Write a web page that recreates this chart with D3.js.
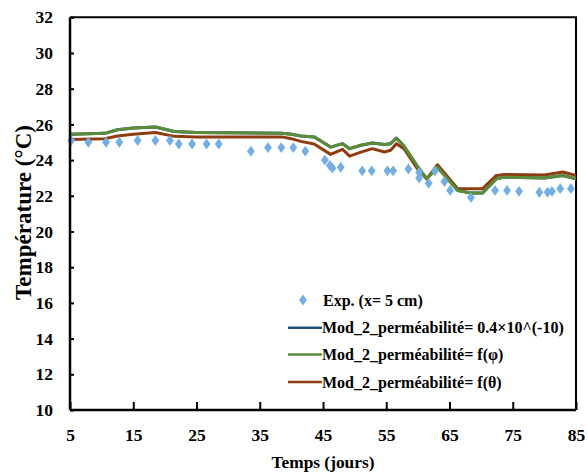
<!DOCTYPE html>
<html>
<head>
<meta charset="utf-8">
<script src="https://cdn.jsdelivr.net/npm/d3@7"></script>
<style>
  html, body { margin: 0; padding: 0; background: #fff; }
</style>
</head>
<body>
<svg id="chart" width="587" height="476"></svg>
<script>
// ---- data ----
const xTicks = [5, 15, 25, 35, 45, 55, 65, 75, 85];
const yTicks = [10, 12, 14, 16, 18, 20, 22, 24, 26, 28, 30, 32];

const expDays  = [5.2, 7.9, 10.7, 12.8, 15.7, 18.5, 20.8, 22.2, 24.3, 26.6, 28.5, 33.6, 36.3, 38.4, 40.3, 42.2, 45.3, 46.1, 46.5, 47.8, 51.2, 52.7, 55.2, 56.1, 58.5, 60.2, 60.2, 61.7, 62.7, 64.2, 65.1, 68.4, 72.2, 74.1, 76.0, 79.2, 80.5, 81.2, 82.5, 84.2];
const expTemps = [25.1, 25.0, 25.0, 25.0, 25.1, 25.1, 25.1, 24.9, 24.9, 24.9, 24.9, 24.5, 24.7, 24.7, 24.7, 24.5, 24.0, 23.7, 23.55, 23.6, 23.4, 23.4, 23.4, 23.4, 23.5, 23.3, 23.0, 22.7, 23.4, 22.8, 22.3, 21.9, 22.3, 22.3, 22.25, 22.2, 22.2, 22.25, 22.4, 22.4];

const modDays   = [5, 10.5, 12.5, 15, 18.5, 21.5, 25, 38.5, 40, 41.5, 43.6, 46.2, 48.1, 49.2, 51, 52.8, 54.7, 55.7, 56.6, 57.8, 59.9, 61.4, 63.1, 66.3, 68.4, 70.2, 72.4, 73.7, 80, 82.9, 85];
const modConst  = [25.45, 25.5, 25.7, 25.8, 25.85, 25.6, 25.55, 25.5, 25.45, 25.35, 25.3, 24.73, 24.92, 24.64, 24.83, 24.96, 24.87, 24.92, 25.24, 24.79, 23.66, 22.95, 23.6, 22.3, 22.15, 22.15, 22.95, 23.05, 23.0, 23.14, 22.95];
const modPhi    = [25.45, 25.5, 25.7, 25.8, 25.85, 25.6, 25.55, 25.5, 25.45, 25.35, 25.3, 24.73, 24.92, 24.64, 24.83, 24.96, 24.87, 24.92, 25.24, 24.79, 23.66, 22.95, 23.6, 22.3, 22.15, 22.15, 22.95, 23.05, 23.0, 23.14, 22.95];
const modTheta  = [25.15, 25.2, 25.35, 25.45, 25.55, 25.33, 25.3, 25.3, 25.2, 25.05, 24.9, 24.32, 24.6, 24.22, 24.45, 24.64, 24.45, 24.55, 24.92, 24.64, 23.52, 22.95, 23.74, 22.39, 22.39, 22.39, 23.14, 23.2, 23.16, 23.33, 23.14];

const seriesNames = ["Exp. (x= 5 cm)", "Mod_2_perméabilité= 0.4×10^(-10)", "Mod_2_perméabilité= f(φ)", "Mod_2_perméabilité= f(θ)"];
const seriesColors = ["#74aee3", "#1f4e79", "#5b8c3a", "#8e3d12"];

const FONT = "'Liberation Serif', 'Times New Roman', 'DejaVu Serif', serif";

// ---- layout ----
const svg = d3.select("#chart");
const L = 70, R = 576, T = 17.3, B = 410;
const x = d3.scaleLinear().domain([5, 85]).range([L, R]);
const y = d3.scaleLinear().domain([10, 32]).range([B, T]);

function styleText(sel, size) {
  sel.attr("font-family", null)
     .style("font-family", FONT).style("font-weight", "bold")
     .style("font-size", size + "px").attr("fill", "#000");
}
// scale a text's font size so its length matches a target
function fitText(sel, target) {
  const n = sel.node();
  const len = n.getComputedTextLength();
  const fs = parseFloat(n.style.fontSize);
  if (len > 0) sel.style("font-size", (fs * target / len) + "px");
}

// frame (top & right)
svg.append("path")
  .attr("d", `M${L},${T}H${R}V${B}`)
  .attr("fill", "none").attr("stroke", "#000").attr("stroke-width", 2);

// model lines
const line = d3.line().x((d, i) => x(modDays[i])).y(d => y(d));
[[modConst, 1], [modTheta, 3], [modPhi, 2]].forEach(([vals, ci]) => {
  svg.append("path").datum(vals).attr("d", line)
    .attr("fill", "none").attr("stroke", seriesColors[ci])
    .attr("stroke-width", 3).attr("stroke-linejoin", "round");
});

// experimental diamonds
const diamond = d3.symbol().type(d3.symbolDiamond).size(34);
svg.append("g").selectAll("path").data(expTemps).join("path")
  .attr("d", diamond)
  .attr("transform", (d, i) => `translate(${x(expDays[i])},${y(d)}) scale(1.25,1)`)
  .attr("fill", seriesColors[0]);

// axes
const xAxis = d3.axisBottom(x).tickValues(xTicks).tickSize(-8).tickPadding(14).tickFormat(d3.format("d"));
const gx = svg.append("g").attr("transform", `translate(0,${B})`).call(xAxis);
gx.attr("font-family", null);
gx.select(".domain").attr("stroke-width", 2.5).attr("d", `M${L},0H${R}`);
gx.selectAll(".tick line").attr("stroke-width", 2);
gx.selectAll(".tick text").call(styleText, 17.5).attr("y", 19).attr("dy", "0.71em");

const yAxis = d3.axisLeft(y).tickValues(yTicks).tickSize(-4).tickPadding(14).tickFormat(d3.format("d"));
const gy = svg.append("g").attr("transform", `translate(${L},0)`).call(yAxis);
gy.attr("font-family", null);
gy.select(".domain").attr("stroke-width", 2.5).attr("d", `M0,${T}V${B}`);
gy.selectAll(".tick line").attr("stroke-width", 2);
gy.selectAll(".tick text").call(styleText, 17.5).attr("x", -17);

// axis titles
svg.append("text").attr("x", (L + R) / 2).attr("y", 468).attr("text-anchor", "middle")
  .call(styleText, 17).text("Temps (jours)").call(fitText, 103);
svg.append("text").attr("transform", `translate(31,212.5) rotate(-90)`)
  .attr("text-anchor", "middle").call(styleText, 22).text("Température (°C)").call(fitText, 175);

// legend
const lg = svg.append("g");
lg.append("path").attr("d", diamond).attr("transform", "translate(303,300) scale(1.25,1)").attr("fill", seriesColors[0]);
lg.append("text").attr("x", 323).attr("y", 305.5).call(styleText, 16).text(seriesNames[0]);
const legY = [327.7, 354.5, 382];
[1, 2, 3].forEach((ci, k) => {
  lg.append("line").attr("x1", 288).attr("x2", 322).attr("y1", legY[k]).attr("y2", legY[k])
    .attr("stroke", seriesColors[ci]).attr("stroke-width", 2.5);
  lg.append("text").attr("x", 322).attr("y", legY[k] + 5.5).call(styleText, 16).text(seriesNames[ci]);
});
</script>
</body>
</html>
